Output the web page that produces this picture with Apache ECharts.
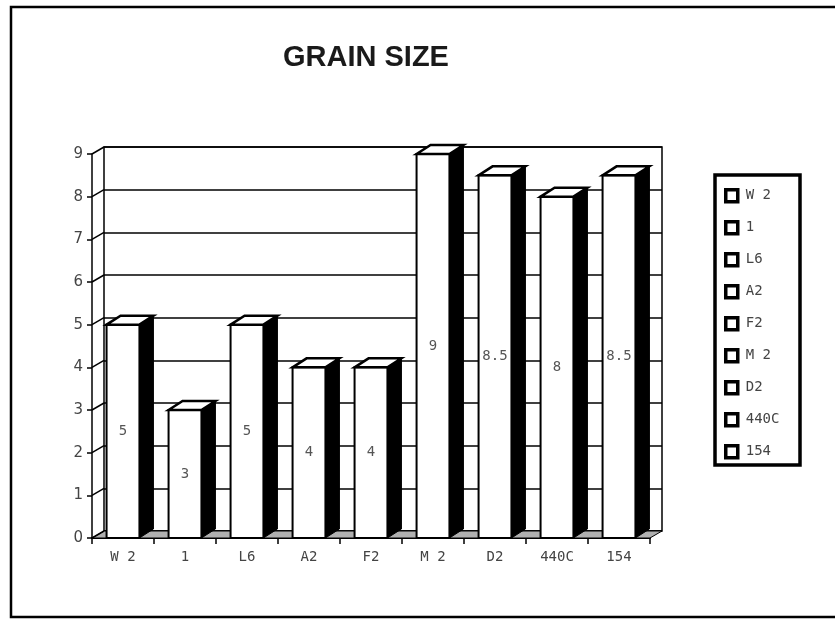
<!DOCTYPE html>
<html>
<head>
<meta charset="utf-8">
<script src="https://cdn.jsdelivr.net/npm/echarts@6/dist/echarts.min.js"></script>
<style>
    html, body { margin: 0; padding: 0; background: #fff; }
    #chart { width: 835px; height: 622px; }
</style>
</head>
<body>
<div id="chart"></div>
<script>
// categories and values
const categories = ['W 2', '1', 'L6', 'A2', 'F2', 'M 2', 'D2', '440C', '154'];
const grainSize = [5, 3, 5, 4, 4, 9, 8.5, 8, 8.5];
const gridValues = [0, 1, 2, 3, 4, 5, 6, 7, 8, 9];

// 3d look: offset of the back wall and of the bar depth
const wallDx = 12, wallDy = -7;
const barDx = 14, barDy = -9;

const monoFont = 'DejaVu Sans Mono';

function renderBar(params, api) {
    const i = api.value(0);
    const top = api.coord([i, api.value(1)]);
    const base = api.coord([i, 0]);
    const band = api.size([1, 0])[0];
    const start = top[0] - band / 2;
    const x0 = start + band * 0.235;
    const x1 = start + band * 0.765;
    const yT = top[1], yB = base[1];
    return {
        type: 'group',
        children: [
            {
                type: 'polygon',
                shape: { points: [[x1, yT], [x1 + barDx, yT + barDy], [x1 + barDx, yB + barDy], [x1, yB]] },
                style: { fill: '#000', stroke: '#000', lineWidth: 1 }
            },
            {
                type: 'rect',
                shape: { x: x0, y: yT, width: x1 - x0, height: yB - yT },
                style: { fill: '#fff', stroke: '#000', lineWidth: 2 }
            },
            {
                type: 'polygon',
                shape: { points: [[x0, yT], [x0 + barDx, yT + barDy], [x1 + barDx, yT + barDy], [x1, yT]] },
                style: { fill: '#fff', stroke: '#000', lineWidth: 2.5 }
            },
            {
                type: 'text',
                style: {
                    text: String(api.value(1)),
                    x: (x0 + x1) / 2,
                    y: (yT + yB) / 2,
                    align: 'center',
                    verticalAlign: 'middle',
                    fill: '#555',
                    font: '14px ' + monoFont
                }
            }
        ]
    };
}

// floor and the short diagonals from the front axis to the back wall
function renderFrame(params, api) {
    const cs = params.coordSys;
    const y = api.coord([0, api.value(0)])[1];
    const children = [{
        type: 'line',
        shape: { x1: cs.x, y1: y, x2: cs.x + wallDx, y2: y + wallDy },
        style: { stroke: '#000', lineWidth: 1.5 }
    }];
    if (api.value(0) === 0) {
        const yb = cs.y + cs.height;
        children.unshift({
            type: 'polygon',
            shape: { points: [[cs.x, yb], [cs.x + wallDx, yb + wallDy], [cs.x + cs.width + wallDx, yb + wallDy], [cs.x + cs.width, yb]] },
            style: { fill: '#b0b0b0', stroke: '#000', lineWidth: 1 }
        });
    }
    return { type: 'group', children: children };
}

const chart = echarts.init(document.getElementById('chart'));

const series = categories.map((name, i) => ({
    type: 'custom',
    name: name,
    xAxisIndex: 0,
    yAxisIndex: 0,
    z: 5,
    renderItem: renderBar,
    data: [[i, grainSize[i]]]
}));
series.unshift({
    type: 'custom',
    name: 'frame',
    xAxisIndex: 0,
    yAxisIndex: 0,
    z: 3,
    silent: true,
    renderItem: renderFrame,
    data: gridValues.map(v => [v])
});

chart.setOption({
    animation: false,
    backgroundColor: '#fff',
    title: {
        text: 'GRAIN SIZE',
        left: 278,
        top: 38,
        textStyle: {
            fontSize: 29,
            fontWeight: 'bold',
            fontFamily: 'Liberation Sans',
            color: '#1a1a1a'
        }
    },
    legend: {
        orient: 'vertical',
        left: 719,
        top: 183,
        itemWidth: 12,
        itemHeight: 12,
        itemGap: 16.5,
        icon: 'rect',
        selectedMode: false,
        data: categories,
        itemStyle: { color: '#fff', borderColor: '#000', borderWidth: 3.5 },
        textStyle: { fontFamily: monoFont, fontSize: 14, color: '#444', lineHeight: 15, padding: [0, 0, 0, 3] }
    },
    grid: [
        { left: 92, right: 185, top: 154, bottom: 84 },
        { left: 92 + wallDx, right: 185 - wallDx, top: 154 + wallDy, bottom: 84 - wallDy,
          show: true, borderColor: '#000', borderWidth: 1.5, backgroundColor: 'transparent' }
    ],
    xAxis: [
        {
            type: 'category',
            gridIndex: 0,
            data: categories,
            axisLine: { lineStyle: { color: '#000', width: 2 } },
            axisTick: { show: true, length: 6, lineStyle: { color: '#000', width: 1.5 } },
            axisLabel: { margin: 12, fontFamily: monoFont, fontSize: 14, color: '#444' },
            splitLine: { show: false }
        },
        {
            type: 'category',
            gridIndex: 1,
            data: categories,
            show: false
        }
    ],
    yAxis: [
        {
            type: 'value',
            gridIndex: 0,
            min: 0,
            max: 9,
            interval: 1,
            axisLine: { show: true, lineStyle: { color: '#000', width: 1.5 } },
            axisTick: { show: true, length: 5, lineStyle: { color: '#000', width: 1.5 } },
            axisLabel: { margin: 9, fontFamily: 'DejaVu Sans', fontSize: 15, color: '#444' },
            splitLine: { show: false }
        },
        {
            type: 'value',
            gridIndex: 1,
            min: 0,
            max: 9,
            interval: 1,
            axisLine: { show: false },
            axisTick: { show: false },
            axisLabel: { show: false },
            splitLine: { show: true, lineStyle: { color: '#000', width: 1.5 } }
        }
    ],
    graphic: [
        {
            type: 'rect',
            shape: { x: 11, y: 7, width: 840, height: 610 },
            style: { fill: 'none', stroke: '#000', lineWidth: 2.5 },
            z: 10
        },
        {
            type: 'rect',
            shape: { x: 715, y: 175, width: 85, height: 290 },
            style: { fill: 'none', stroke: '#000', lineWidth: 3.5 },
            z: 10
        }
    ],
    series: series
});
</script>
</body>
</html>
